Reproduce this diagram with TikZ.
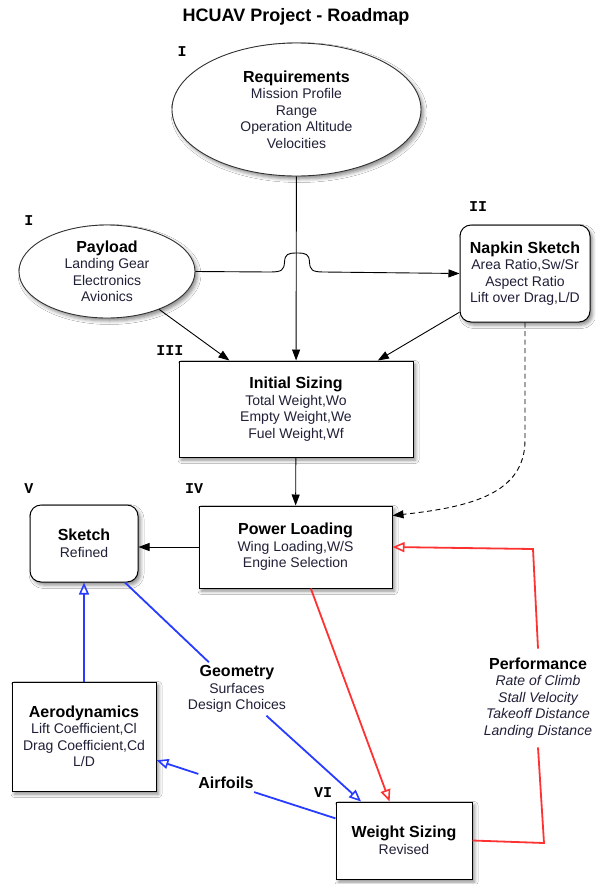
\documentclass[tikz,border=0pt]{standalone}
\usepackage{fontspec}
\setmainfont{Liberation Sans}
\setmonofont{Liberation Mono}
\usetikzlibrary{arrows.meta,shapes.geometric,shadows.blur}

\definecolor{bodytext}{RGB}{32,32,56}
\definecolor{linkblue}{RGB}{40,60,255}
\definecolor{linkred}{RGB}{255,50,50}
\definecolor{shapeedge}{RGB}{50,50,50}

\newcommand\nodetitle[1]{{\fontsize{16}{18}\selectfont\bfseries\color{black}#1}}

\begin{document}
\begin{tikzpicture}[x=1pt,y=-1pt,
  shade/.style={blur shadow={shadow xshift=2.5pt,shadow yshift=-3pt,shadow blur radius=3.5pt,shadow opacity=45}},
  bodyfont/.style={font=\fontsize{14}{16.5}\selectfont, text=bodytext, align=center},
  ell/.style={ellipse, draw=shapeedge, line width=0.9pt, fill=white, shade, inner sep=0pt, bodyfont},
  sqbox/.style={rectangle, draw=black, line width=1pt, fill=white, shade, inner sep=0pt, bodyfont},
  rbox/.style={sqbox, rounded corners=11pt},
  lbl/.style={bodyfont, inner sep=3pt},
  numlbl/.style={font=\fontsize{15}{15}\selectfont\ttfamily\bfseries, text=black, inner sep=0pt},
  blk/.style={draw=black, line width=0.9pt, -{Triangle[length=11pt,width=8pt]}},
  redl/.style={draw=linkred, line width=1.8pt},
  bluel/.style={draw=linkblue, line width=1.8pt},
  openred/.style={redl, -{Triangle[open,length=12pt,width=10pt,line width=1.6pt]}},
  openblue/.style={bluel, -{Triangle[open,length=12pt,width=10pt,line width=1.6pt]}}
]
\useasboundingbox (0,0) rectangle (595,884);
\fill[white] (0,0) rectangle (595,884);

% title
\node[font=\fontsize{18}{20}\selectfont\bfseries, text=black] (title) at (296,17) {HCUAV Project - Roadmap};

% stage labels
\node[numlbl] (n1) at (182,52) {I};
\node[numlbl] (n1b) at (29,221) {I};
\node[numlbl] (n2) at (478,207) {II};
\node[numlbl] (n3) at (170,351) {III};
\node[numlbl] (n4) at (194,489) {IV};
\node[numlbl] (n5) at (29,489) {V};
\node[numlbl] (n6) at (323,793) {VI};

% main shapes
\node[ell, minimum width=249pt, minimum height=133pt] (req) at (296.5,109.5)
  {\nodetitle{Requirements}\\Mission Profile\\Range\\Operation Altitude\\Velocities};
\node[ell, minimum width=176pt, minimum height=93pt] (pay) at (107,271.5)
  {\nodetitle{Payload}\\Landing Gear\\Electronics\\Avionics};
\node[rbox, minimum width=130pt, minimum height=97pt] (nap) at (525,273.5)
  {\nodetitle{Napkin Sketch}\\Area Ratio,Sw/Sr\\Aspect Ratio\\Lift over Drag,L/D};
\node[sqbox, minimum width=234pt, minimum height=96pt] (is) at (296,409)
  {\nodetitle{Initial Sizing}\\Total Weight,Wo\\Empty Weight,We\\Fuel Weight,Wf};
\node[sqbox, minimum width=193pt, minimum height=82pt] (pl) at (295.5,547)
  {\nodetitle{Power Loading}\\Wing Loading,W/S\\Engine Selection};
\node[rbox, minimum width=108pt, minimum height=77pt] (sk) at (84,543.5)
  {\nodetitle{Sketch}\\Refined};
\node[sqbox, minimum width=144pt, minimum height=109pt] (aero) at (84,736.5)
  {\nodetitle{Aerodynamics}\\Lift Coefficient,Cl\\Drag Coefficient,Cd\\L/D};
\node[sqbox, minimum width=136pt, minimum height=77pt] (ws) at (404,840.5)
  {\nodetitle{Weight Sizing}\\Revised};

% free labels
\node[lbl] (geo) at (237,689) {\nodetitle{Geometry}\\Surfaces\\Design Choices};
\node[lbl, inner xsep=10pt] (air) at (226,783) {\nodetitle{Airfoils}};
\node[lbl, inner xsep=4pt, inner ysep=9pt] (perf) at (538,698)
  {\nodetitle{Performance}\\\itshape Rate of Climb\\\itshape Stall Velocity\\\itshape Takeoff Distance\\\itshape Landing Distance};

% black connectors
\draw[blk] (req) -- (is);
\draw[blk] (pay) -- (is);
\draw[blk] (nap) -- (is);
\draw[blk] (pay.east) -- (270,272) .. controls (282,272) and (284,270) .. (284.5,262)
  .. controls (285,254) and (288,253) .. (297,253)
  .. controls (306,253) and (309,254) .. (309.5,262)
  .. controls (310,270) and (312,272) .. (324,272) -- (nap.west);
\draw[blk, dash pattern=on 5pt off 3.5pt] (nap.south) -- (525,440)
  .. controls (525,493) and (472,507) .. (pl.18);
\draw[blk] (is) -- (pl);
\draw[blk] (pl.west) -- (pl.west -| sk.east);

% red connectors
\draw[openred] (pl) -- (ws);
\draw[redl] (ws.east) -- (544,843) -- (perf.south);
\draw[openred] (perf.north) -- (533,549) -- (pl.east);

% blue connectors
\draw[openblue] (aero) -- (sk);
\draw[bluel] (sk) -- (geo);
\draw[openblue] (geo) -- (ws);
\draw[bluel] (ws) -- (air);
\draw[openblue] (air) -- (aero);
\end{tikzpicture}
\end{document}
